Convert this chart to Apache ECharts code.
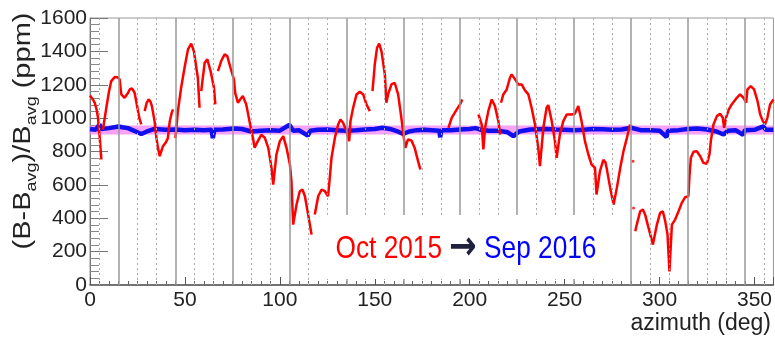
<!DOCTYPE html>
<html>
<head>
<meta charset="utf-8">
<script src="https://cdn.jsdelivr.net/npm/echarts@6/dist/echarts.min.js"></script>
<style>
  html, body { margin: 0; padding: 0; background: #fff; }
  #chart { width: 775px; height: 339px; }
</style>
</head>
<body>
<div id="chart"></div>
<script>
  // azimuth (deg), ppm ; null = gap in the scan
  const redOct2015 = [
    [0,1135],[1.5,1112],[2.5,1092],[3.5,1050],[4.2,1002],[5,900],[6,752], null,
    [6.8,930],[8.6,1062],[10,1160],[11.2,1222],[13,1246],[14.5,1245],[15.6,1232],[16.5,1142],[18.2,1122],[20,1150],[20.9,1172],[22.1,1178],[23.5,1152],[25.3,1042],[26,1000],[27,962], null,
    [28.8,1042],[29.8,1090],[30.9,1112],[31.8,1100],[32.6,1072],[34,982],[35,880],[35.8,822],[36.7,772],[37.5,800],[38.4,831],[40,855],[41,880],[42,980],[43,1030],[43.7,1052], null,
    [45,880],[46.3,1042],[48,1182],[49.8,1302],[51.6,1412],[53.3,1446],[54.7,1402],[56,1302],[56.8,1242],[57.7,1062], null,
    [58.6,1162],[60.4,1332],[61.8,1352],[63.5,1282],[65.3,1182],[66,1082], null,
    [67.4,1282],[69.1,1342],[70.9,1382],[72.3,1372],[74,1302],[75.8,1232],[76.5,1150],[77.9,1092],[79,1110],[80.5,1132],[82.3,1082],[84,982],[85.8,882],[86.7,822],[88.4,862],[90.2,900],[92.1,882],[93.9,822],[95.6,702],[96.5,602],[98.2,782],[100,862],[101.8,892],[103.5,822],[105.3,722],[106.1,622],[107,362],[108.8,482],[110.5,562],[111.9,572],[113.2,532],[114.9,422],[116.7,302], null,
    [118.4,422],[120.2,532],[122,572],[123.7,562],[125.4,532],[126.3,642],[127.2,762],[129,882],[130.7,962],[131.9,992],[133.3,972],[135.1,922],[136.5,862],[137.2,982],[138.6,1062],[140.4,1142],[142.1,1158],[143.9,1142],[145.6,1082],[147.4,1042], null,
    [148.8,1162],[150,1322],[151.2,1422],[152.3,1446],[153.5,1402],[155.3,1262],[156.1,1092],[157,1142],[158.8,1202],[160.5,1212],[162.3,1142],[164,1002],[165.3,882],[166.1,822],[167.5,872],[169.3,866],[171,822],[172.8,742],[174,692], null,
    [188.8,942],[190.5,1002],[193.2,1052],[194.9,1082],[196.1,1112], null,
    [204.6,1022],[206.3,962],[207.2,812],[208.1,942],[209.8,1042],[211.6,1112],[213.3,1072],[215.1,982],[216,902], null,
    [216.5,1092],[217.7,1142],[219.5,1172],[221.2,1242],[222.1,1262],[223.9,1232],[225.6,1202],[227.4,1202],[229.1,1166],[230.9,1142],[232.6,1062],[234.4,962],[236.1,822],[237,712],[238.8,942],[240.5,1062],[241.4,1078],[243.2,982],[244.9,862],[245.8,762],[247.5,902],[249.3,982],[251.1,1022],[253.7,1022],[255.4,1026],[257.2,1072],[258.9,982],[260.7,862],[262.5,782],[264.2,722],[266,702],[266.8,542],[268.6,682],[270.4,750],[271.5,735],[272.3,690],[274,582],[275.8,482],[277.5,582],[279.3,702],[281,802],[282.8,882],[284.5,962], null,
    [287.2,322],[288,362],[289.8,442],[291.2,452],[292.4,422],[294.2,342],[296.5,242],[298.6,362],[300.3,432],[301.7,442],[303,382],[304.2,302],[305.2,82],[306.5,362],[308.2,392],[310,442],[311.7,492],[313.5,526],[315.2,532],[315.8,662],[316.5,762],[317.9,798],[319.6,802],[321.4,772],[323.1,732],[324.9,726],[326.3,782],[327,862],[328.4,962],[330.2,1012],[331.9,1026],[333.3,1002],[334,942],[335,1002],[336.5,1052],[338,1082],[340.7,1122],[342.4,1142],[344.2,1122],[345.6,1092],[346.3,1172],[348,1192],[349.8,1172],[351.6,1102],[353,1022],[354.4,982],[355.6,962],[356.8,1002],[358.2,1082],[360,1112]
  ];
  const redStray = [[286,742],[286.3,462]];

  const blueSep2016 = [
    [0,935],[3,930],[5,962],[6,935],[10,940],[15,950],[17,945],[20,940],[25,915],[27,905],[30,920],[34,935],[40,930],[45,932],[50,928],[55,930],[60,928],[64,930],[64.7,880],[65.5,930],[70,932],[76,938],[80,935],[85,920],[90,925],[95,928],[100,925],[105,960],[107,925],[110,928],[114.7,895],[116,925],[120,930],[125,932],[130,928],[135,925],[140,928],[145,932],[150,935],[154,942],[158,935],[162,920],[165,905],[168,920],[172,928],[176,930],[180,928],[184,925],[184.5,885],[185,928],[190,928],[195,932],[200,935],[203,940],[206,930],[210,925],[215,925],[220,915],[223,892],[226,920],[232,932],[240,935],[245,932],[250,930],[255,928],[260,930],[265,935],[270,933],[275,930],[280,932],[285,942],[290,928],[295,928],[300,925],[303.7,887],[304.5,925],[310,928],[315,935],[320,938],[325,932],[330,920],[333.7,902],[336,925],[340,928],[344,900],[345,928],[350,930],[354.7,950],[356,930],[360,930]
  ];
  const bandPpm = [902, 956];

  const solidAz = [15, 45, 75, 105, 135, 165, 195, 225, 255, 285, 315, 345];
  const dottedAz = [5, 25, 35, 55, 65, 85, 95, 115, 125, 145, 155, 175, 185, 205, 215, 235, 245, 265, 275, 295, 305, 325, 335, 355];

  const narrow = "'Liberation Sans Narrow', 'Liberation Sans', sans-serif";
  const chart = echarts.init(document.getElementById('chart'));

  chart.setOption({
    animation: false,
    backgroundColor: '#fff',
    grid: { left: 90, right: 1, top: 18, bottom: 54, show: true, borderColor: '#999', borderWidth: 1 },
    xAxis: {
      type: 'value', min: 0, max: 360, interval: 50,
      axisLine: { lineStyle: { color: '#555', width: 1.5 } },
      axisTick: { inside: true, length: 8, lineStyle: { color: '#555' } },
      minorTick: { show: true, splitNumber: 10, length: 4, lineStyle: { color: '#666' } },
      axisLabel: { color: '#222', fontSize: 21, fontFamily: narrow, margin: 5, showMaxLabel: false,
        formatter: v => String(v) },
      splitLine: { show: false }
    },
    yAxis: {
      type: 'value', min: 0, max: 1600, interval: 200,
      axisLine: { show: true, lineStyle: { color: '#777' } },
      axisTick: { inside: true, length: 18, lineStyle: { color: '#777' } },
      minorTick: { show: true, splitNumber: 5, length: 9, lineStyle: { color: '#888' } },
      axisLabel: { color: '#222', fontSize: 21, fontFamily: narrow, margin: 3,
        formatter: v => String(v) },
      splitLine: { show: false }
    },
    graphic: [
      {
        type: 'text', x: 23, y: 131, rotation: Math.PI / 2, scaleY: 0.82,
        style: {
          text: '{m|(B-B}{s|avg}{m|)/B}{s|avg}{m| (ppm)}',
          align: 'center', verticalAlign: 'middle',
          rich: {
            m: { fontSize: 29, fontFamily: 'Liberation Sans', fill: '#222', lineHeight: 40, verticalAlign: 'middle' },
            s: { fontSize: 18, fontFamily: 'Liberation Sans', fill: '#222', lineHeight: 40, verticalAlign: 'bottom' }
          }
        }
      },
      {
        type: 'text', right: 4, top: 312,
        style: { text: 'azimuth (deg)', fontSize: 23, fontFamily: narrow, fill: '#222' }
      },
      {
        type: 'rect', shape: { x: 315, y: 215, width: 305, height: 64 },
        style: { fill: '#fff' }, z: 50
      },
      {
        type: 'text', x: 466, y: 249, scaleX: 0.82, z: 51,
        style: {
          text: '{r|Oct 2015 }{a|→}{b| Sep 2016}',
          align: 'center', verticalAlign: 'middle',
          rich: {
            r: { fontSize: 32, fontFamily: 'Liberation Sans', fill: '#ff0000' },
            a: { fontSize: 40, fontFamily: 'DejaVu Sans', fill: '#20203f', fontWeight: 'bold' },
            b: { fontSize: 32, fontFamily: 'Liberation Sans', fill: '#0000ff' }
          }
        }
      }
    ],
    series: [
      {
        type: 'line', data: [], z: 1, silent: true,
        markArea: {
          silent: true,
          itemStyle: { color: 'rgba(245,130,245,0.75)' },
          data: [[{ yAxis: bandPpm[0] }, { yAxis: bandPpm[1] }]]
        }
      },
      {
        type: 'line', data: [], z: 1, silent: true,
        markLine: {
          silent: true, symbol: 'none', label: { show: false },
          lineStyle: { color: '#999', width: 1.5, type: 'solid' },
          data: solidAz.map(a => ({ xAxis: a }))
        }
      },
      {
        type: 'line', data: [], z: 1, silent: true,
        markLine: {
          silent: true, symbol: 'none', label: { show: false },
          lineStyle: { color: '#aaa', width: 1, type: [2, 3] },
          data: dottedAz.map(a => ({ xAxis: a }))
        }
      },
      {
        name: 'Sep 2016', type: 'line', z: 3, symbol: 'none',
        lineStyle: { color: '#1010ee', width: 4.5 },
        data: blueSep2016
      },
      {
        name: 'Oct 2015', type: 'line', z: 4, symbol: 'none',
        lineStyle: { color: '#ff0000', width: 2.5 },
        data: redOct2015.map(p => p === null ? '-' : p)
      },
      {
        type: 'scatter', z: 4, symbolSize: 3,
        itemStyle: { color: '#ff0000' },
        data: redStray
      }
    ]
  });
</script>
</body>
</html>
